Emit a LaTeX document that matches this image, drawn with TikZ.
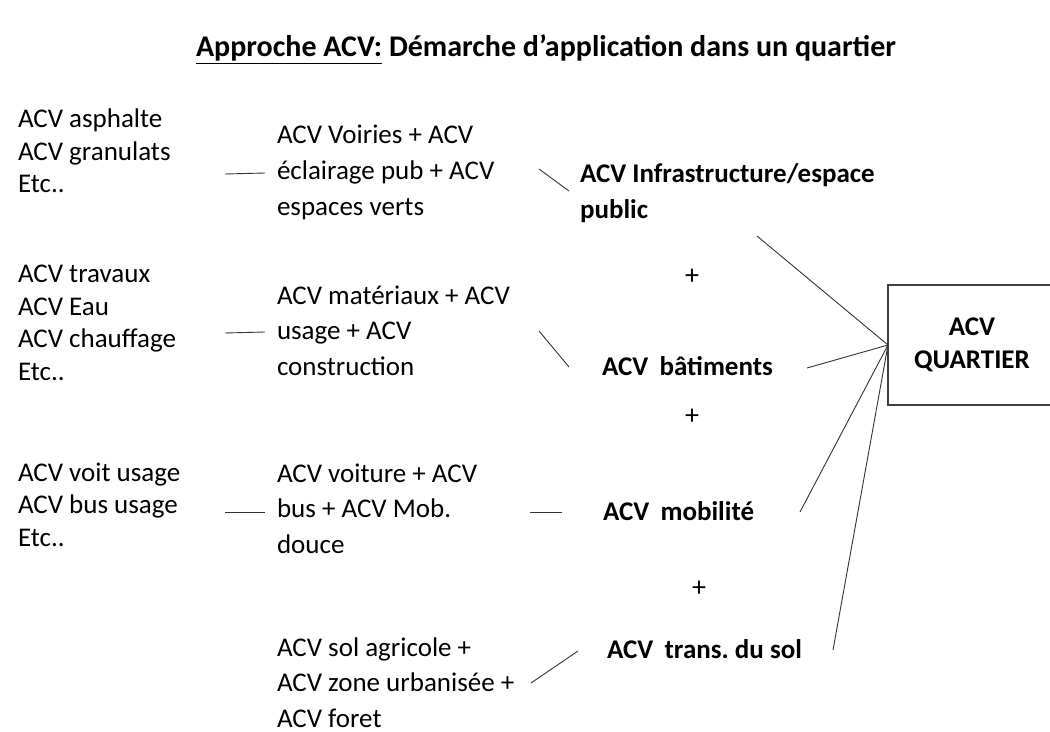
\documentclass[tikz,border=0pt]{standalone}
\usepackage{fontspec}
\setmainfont{Carlito}
\frenchspacing
\begin{document}
\begin{tikzpicture}[x=1bp,y=-1bp,
  every node/.style={inner sep=0pt, outer sep=0pt},
  % multi-line blocks are placed by the baseline of their last line
  lefttxt/.style={anchor=base west, align=left, font=\fontsize{27bp}{32.5bp}\selectfont},
  midtxt/.style={anchor=base west, align=left, font=\fontsize{27bp}{35.5bp}\selectfont},
  sumtxt/.style={anchor=base west, align=left, font=\bfseries\fontsize{27bp}{35bp}\selectfont},
  plus/.style={font=\fontsize{28bp}{30bp}\selectfont},
  link/.style={draw=black!80, line width=0.9bp}]
\useasboundingbox (0,0) rectangle (1050,732);
\fill[white] (0,0) rectangle (1050,732);

% title
\node[anchor=base, font=\bfseries\fontsize{30bp}{36bp}\selectfont] (title) at (546,57)
  {\underline{Approche ACV:} Démarche d’application dans un quartier};

% detailed inventories
\node[lefttxt] (inv1) at (18,193) {ACV asphalte\\ACV granulats\\Etc..};
\node[lefttxt] (inv2) at (18,380) {ACV travaux\\ACV Eau\\ACV chauffage\\Etc..};
\node[lefttxt] (inv3) at (18,546) {ACV voit usage\\ACV bus usage\\Etc..};

% grouped assessments
\node[midtxt] (grp1) at (277,215) {ACV Voiries + ACV\\éclairage pub + ACV\\espaces verts};
\node[midtxt] (grp2) at (277,375) {ACV matériaux + ACV\\usage + ACV\\construction};
\node[midtxt] (grp3) at (277,553) {ACV voiture + ACV\\bus + ACV Mob.\\douce};
\node[midtxt] (grp4) at (277,727) {ACV sol agricole +\\ACV zone urbanisée +\\ACV foret};

% district components
\node[sumtxt] (infra) at (580,218) {ACV Infrastructure/espace\\public};
\node[sumtxt] (bat) at (602,375) {ACV\hspace{0.42em}bâtiments};
\node[sumtxt] (mob) at (603,520) {ACV\hspace{0.42em}mobilité};
\node[sumtxt] (sol) at (607,658) {ACV\hspace{0.42em}trans. du sol};

\node[plus] (p1) at (692,277) {+};
\node[plus] (p2) at (692,417) {+};
\node[plus] (p3) at (699,589) {+};

% district result
\node[draw=black!75, line width=1.1bp, minimum width=168bp, minimum height=120bp,
      align=center, font=\bfseries\fontsize{27bp}{33bp}\selectfont] (quartier) at (972,345)
  {ACV\\QUARTIER};

% connector end points
\coordinate (a1) at (225,174); \coordinate (b1) at (265,173);
\coordinate (a2) at (225,333); \coordinate (b2) at (265,332);
\coordinate (a3) at (225,512); \coordinate (b3) at (265,512);
\coordinate (d1) at (539,169); \coordinate (e1) at (569,191);
\coordinate (d2) at (539,331); \coordinate (e2) at (569,367);
\coordinate (d3) at (530,512); \coordinate (e3) at (562,512);
\coordinate (d4) at (531,683); \coordinate (e4) at (578,651);
\coordinate (f1) at (757,236);
\coordinate (f2) at (807,368);
\coordinate (f3) at (800,512);
\coordinate (f4) at (833,650);

\draw[link] (a1) -- (b1);
\draw[link] (a2) -- (b2);
\draw[link] (a3) -- (b3);
\draw[link] (d1) -- (e1);
\draw[link] (d2) -- (e2);
\draw[link] (d3) -- (e3);
\draw[link] (d4) -- (e4);
\draw[link] (f1) -- (quartier.west);
\draw[link] (f2) -- (quartier.west);
\draw[link] (f3) -- (quartier.west);
\draw[link] (f4) -- (quartier.west);
\end{tikzpicture}
\end{document}
